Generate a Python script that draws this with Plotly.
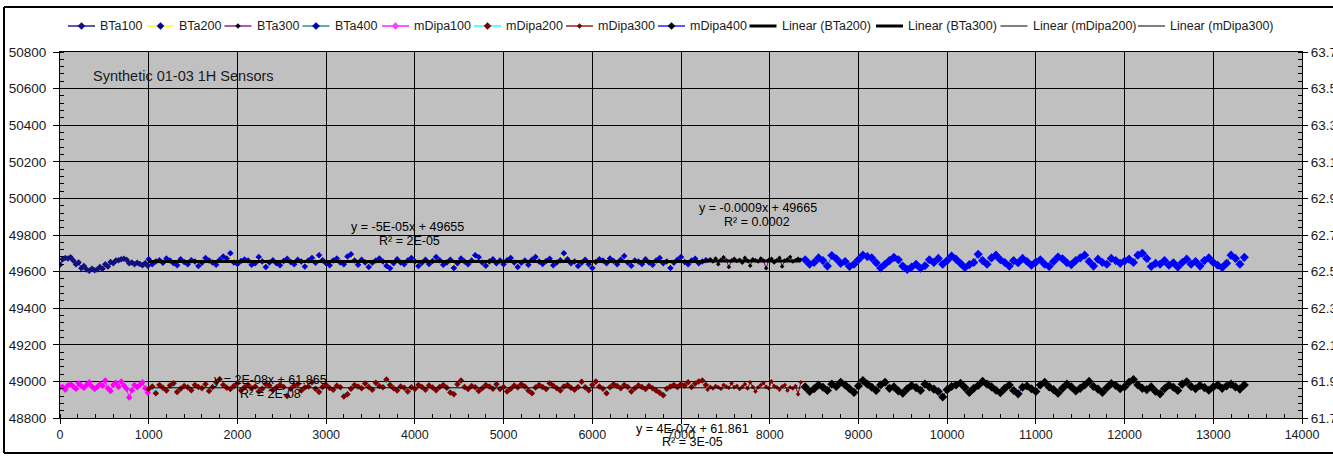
import plotly.graph_objects as go

# ---------------- data ----------------
series_names = ["BTa100", "BTa200", "BTa300", "BTa400",
                "mDipa100", "mDipa200", "mDipa300", "mDipa400"]

# sample grid of each series: (first x, spacing)
bta100_grid = (0, 30)
bta200_grid = (1000, 40)
bta300_grid = (7300, 30)
bta400_grid = (8400, 50)
mdipa100_grid = (0, 30)
mdipa200_grid = (1000, 40)
mdipa300_grid = (7300, 30)
mdipa400_grid = (8400, 50)

# BTa series (left axis)
bta100 = [49637, 49668, 49675, 49672, 49678, 49660, 49640, 49650, 49618, 49630,
          49612, 49605, 49615, 49608, 49612, 49625, 49615, 49640, 49628, 49652,
          49645, 49660, 49662, 49668, 49670, 49665, 49645, 49650, 49640, 49648,
          49642, 49635, 49645, 49632]

bta200 = [49668, 49640, 49655, 49662, 49648, 49672, 49660, 49645, 49635, 49668,
          49652, 49640, 49662, 49655, 49630, 49648, 49675, 49660, 49650, 49638,
          49665, 49682, 49672, 49700, 49650, 49642, 49658, 49666, 49660, 49638,
          49645, 49680, 49655, 49625, 49650, 49662, 49645, 49635, 49658, 49670,
          49652, 49640, 49665, 49655, 49628, 49660, 49675, 49648, 49690, 49662,
          49645, 49635, 49660, 49672, 49650, 49640, 49682, 49695, 49660, 49638,
          49665, 49650, 49625, 49648, 49660, 49672, 49655, 49632, 49618, 49645,
          49668, 49650, 49640, 49660, 49675, 49655, 49630, 49648, 49665, 49642,
          49658, 49680, 49662, 49638, 49650, 49665, 49620, 49645, 49672, 49655,
          49640, 49660, 49690, 49678, 49650, 49632, 49655, 49668, 49645, 49660,
          49640, 49662, 49675, 49650, 49625, 49648, 49660, 49638, 49665, 49680,
          49655, 49642, 49658, 49670, 49635, 49650, 49662, 49700, 49668, 49645,
          49655, 49630, 49648, 49665, 49640, 49620, 49652, 49668, 49660, 49645,
          49672, 49658, 49640, 49665, 49685, 49650, 49632, 49660, 49655, 49642,
          49668, 49650, 49638, 49660, 49675, 49645, 49655, 49620, 49648, 49665,
          49680, 49652, 49640, 49660, 49670, 49645, 49655, 49662]

bta300 = [49660, 49668, 49655, 49672, 49640, 49665, 49678, 49662, 49625, 49660,
          49670, 49658, 49665, 49648, 49675, 49660, 49632, 49668, 49662, 49655,
          49672, 49660, 49618, 49665, 49670, 49650, 49662, 49675, 49628, 49660,
          49668, 49680, 49655, 49662, 49670, 49665]

bta400 = [49665, 49640, 49650, 49675, 49660, 49630, 49688, 49670, 49645, 49655,
          49628, 49640, 49665, 49690, 49682, 49675, 49648, 49620, 49640, 49660,
          49678, 49665, 49630, 49612, 49625, 49640, 49618, 49632, 49665, 49650,
          49672, 49640, 49660, 49685, 49668, 49645, 49622, 49638, 49650, 49695,
          49660, 49640, 49675, 49690, 49665, 49650, 49630, 49660, 49648, 49672,
          49655, 49635, 49652, 49665, 49640, 49628, 49655, 49680, 49670, 49648,
          49638, 49660, 49675, 49690, 49655, 49630, 49668, 49650, 49640, 49672,
          49660, 49645, 49658, 49668, 49650, 49690, 49700, 49672, 49628, 49645,
          49640, 49660, 49635, 49648, 49625, 49650, 49668, 49640, 49655, 49630,
          49660, 49675, 49650, 49635, 49622, 49645, 49690, 49672, 49640, 49678]

# mDipa series (right axis)
mdipa100 = [61.868, 61.870, 61.855, 61.878, 61.885, 61.872, 61.860, 61.890, 61.875, 61.865,
            61.880, 61.895, 61.872, 61.858, 61.870, 61.884, 61.876, 61.905, 61.862, 61.848,
            61.880, 61.892, 61.870, 61.900, 61.878, 61.860, 61.812, 61.852, 61.880, 61.868,
            61.880, 61.895, 61.862, 61.838]

mdipa200 = [61.858, 61.872, 61.835, 61.880, 61.865, 61.850, 61.878, 61.890, 61.842, 61.860,
            61.875, 61.868, 61.852, 61.880, 61.870, 61.862, 61.885, 61.848, 61.870, 61.895,
            61.912, 61.880, 61.865, 61.858, 61.875, 61.890, 61.850, 61.868, 61.880, 61.862,
            61.872, 61.845, 61.860, 61.885, 61.878, 61.852, 61.868, 61.880, 61.870, 61.820,
            61.860, 61.878, 61.885, 61.850, 61.866, 61.872, 61.895, 61.860, 61.842, 61.870,
            61.880, 61.864, 61.855, 61.876, 61.868, 61.818, 61.830, 61.860, 61.880, 61.872,
            61.862, 61.888, 61.870, 61.855, 61.892, 61.875, 61.868, 61.910, 61.880, 61.862,
            61.850, 61.872, 61.865, 61.845, 61.868, 61.858, 61.880, 61.870, 61.855, 61.878,
            61.866, 61.852, 61.870, 61.880, 61.865, 61.840, 61.830, 61.885, 61.905, 61.870,
            61.858, 61.875, 61.868, 61.848, 61.862, 61.880, 61.872, 61.860, 61.885, 61.858,
            61.870, 61.845, 61.860, 61.878, 61.868, 61.885, 61.872, 61.850, 61.835, 61.866,
            61.880, 61.870, 61.858, 61.890, 61.876, 61.862, 61.850, 61.872, 61.880, 61.865,
            61.855, 61.870, 61.898, 61.868, 61.852, 61.880, 61.900, 61.872, 61.860, 61.835,
            61.868, 61.885, 61.875, 61.862, 61.880, 61.870, 61.845, 61.862, 61.878, 61.870,
            61.858, 61.875, 61.862, 61.850, 61.838, 61.825, 61.860, 61.872, 61.880, 61.870,
            61.885, 61.878, 61.895, 61.870, 61.888, 61.900, 61.905, 61.880]

mdipa300 = [61.855, 61.870, 61.862, 61.875, 61.868, 61.860, 61.880, 61.872, 61.865, 61.890,
            61.868, 61.875, 61.858, 61.870, 61.885, 61.862, 61.895, 61.870, 61.845, 61.868,
            61.880, 61.892, 61.870, 61.862, 61.900, 61.875, 61.868, 61.855, 61.872, 61.880,
            61.850, 61.868, 61.862, 61.875, 61.830, 61.895]

mdipa400 = [61.870, 61.845, 61.860, 61.880, 61.868, 61.850, 61.885, 61.872, 61.895, 61.880,
            61.860, 61.840, 61.875, 61.905, 61.885, 61.868, 61.850, 61.880, 61.895, 61.862,
            61.870, 61.848, 61.835, 61.860, 61.878, 61.866, 61.850, 61.885, 61.870, 61.858,
            61.845, 61.815, 61.855, 61.872, 61.880, 61.890, 61.866, 61.840, 61.862, 61.878,
            61.900, 61.885, 61.870, 61.852, 61.838, 61.862, 61.880, 61.850, 61.832, 61.868,
            61.875, 61.860, 61.845, 61.880, 61.895, 61.870, 61.855, 61.835, 61.862, 61.885,
            61.870, 61.848, 61.862, 61.880, 61.900, 61.872, 61.858, 61.840, 61.865, 61.888,
            61.878, 61.860, 61.870, 61.895, 61.910, 61.880, 61.862, 61.855, 61.870, 61.845,
            61.832, 61.860, 61.880, 61.868, 61.850, 61.885, 61.898, 61.872, 61.860, 61.878,
            61.866, 61.852, 61.870, 61.880, 61.862, 61.875, 61.885, 61.870, 61.858, 61.880]

# Excel linear trendlines as printed on the chart: (slope, intercept)
trend_bta200 = (-5e-05, 49655)
trend_bta300 = (-0.0009, 49665)
trend_mdipa200 = (2e-08, 61.865)
trend_mdipa300 = (4e-07, 61.861)

trend_labels = [
    ("y = -5E-05x + 49655", "R² = 2E-05"),
    ("y = -0.0009x + 49665", "R² = 0.0002"),
    ("y = 2E-08x + 61.865", "R² = 2E-08"),
    ("y = 4E-07x + 61.861", "R² = 3E-05"),
]

chart_title = "Synthetic 01-03 1H Sensors"
right_ticks = [61.7, 61.9, 62.1, 62.3, 62.5, 62.7, 62.9, 63.1, 63.3, 63.5, 63.7]

legend_labels = ["BTa100", "BTa200", "BTa300", "BTa400", "mDipa100", "mDipa200",
                 "mDipa300", "mDipa400", "Linear (BTa200)", "Linear (BTa300)",
                 "Linear (mDipa200)", "Linear (mDipa300)"]

# ---------------- layout geometry ----------------
# the chart continues a little beyond the 1333 px view on the right (as in the reference)
W, H = 1350, 457
ML, MR, MT, MB = 60, 48, 52, 39
PW, PH = W - ML - MR, H - MT - MB
FONT = "Liberation Sans, Arial, sans-serif"
TXT = "#1a1a1a"


def pxx(px):
    return (px - ML) / PW


def pxy(py):
    return (H - MB - py) / PH


def xs(grid, vals):
    x0, step = grid
    return [x0 + step * i for i in range(len(vals))]


fig = go.Figure()


def add_series(name, grid, vals, line_color, marker_color, msize, yaxis="y"):
    fig.add_trace(go.Scatter(
        x=xs(grid, vals), y=vals, name=name, mode="lines+markers", yaxis=yaxis,
        line=dict(color=line_color, width=1),
        marker=dict(symbol="diamond", size=msize, color=marker_color,
                    line=dict(width=0)),
        showlegend=False, hoverinfo="x+y"))


add_series("BTa100", bta100_grid, bta100, "#000080", "#101080", 5)
add_series("BTa200", bta200_grid, bta200, "#FFFF00", "#0000CC", 5)
add_series("BTa300", bta300_grid, bta300, "#800080", "#000000", 3.5)
add_series("BTa400", bta400_grid, bta400, "#008080", "#0000FF", 7)
add_series("mDipa100", mdipa100_grid, mdipa100, "#FF00FF", "#FF00FF", 5, "y2")
add_series("mDipa200", mdipa200_grid, mdipa200, "#00FFFF", "#800000", 5, "y2")
add_series("mDipa300", mdipa300_grid, mdipa300, "#800000", "#800000", 3.5, "y2")
add_series("mDipa400", mdipa400_grid, mdipa400, "#0000FF", "#000000", 7, "y2")


def add_trend(name, grid, vals, coef, width, yaxis="y"):
    xx = xs(grid, vals)
    xe = [xx[0], xx[-1]]
    ye = [coef[0] * v + coef[1] for v in xe]
    fig.add_trace(go.Scatter(x=xe, y=ye, name=name, mode="lines", yaxis=yaxis,
                             line=dict(color="#000000", width=width),
                             showlegend=False, hoverinfo="skip"))


add_trend("Linear (BTa200)", bta200_grid, bta200, trend_bta200, 3)
add_trend("Linear (BTa300)", bta300_grid, bta300, trend_bta300, 3)
add_trend("Linear (mDipa200)", mdipa200_grid, mdipa200, trend_mdipa200, 1, "y2")
add_trend("Linear (mDipa300)", mdipa300_grid, mdipa300, trend_mdipa300, 1, "y2")

# ---------------- hand-drawn Excel-style legend ----------------
legend_text_x = [99, 178, 255.5, 333.5, 413, 505, 597, 689, 780.5, 907, 1031.5, 1169]
legend_styles = [
    ("#000080", 1.3, "#101080", 3.6),
    ("#FFFF00", 1.3, "#0000A0", 3.6),
    ("#800080", 1.3, "#000000", 2.4),
    ("#008080", 1.3, "#0000C0", 3.6),
    ("#FF00FF", 1.3, "#FF40FF", 3.6),
    ("#00FFFF", 1.3, "#800000", 3.6),
    ("#800000", 1.3, "#800000", 2.4),
    ("#0000FF", 1.3, "#000000", 3.6),
    ("#000000", 3, None, 0),
    ("#000000", 3, None, 0),
    ("#000000", 1, None, 0),
    ("#000000", 1, None, 0),
]
LEG_Y = 26
shapes = []
annotations = []
for label, tx, (lc, lw, mc, ms) in zip(legend_labels, legend_text_x, legend_styles):
    shapes.append(dict(type="line", xref="paper", yref="paper",
                       x0=pxx(tx - 31), x1=pxx(tx - 4), y0=pxy(LEG_Y), y1=pxy(LEG_Y),
                       line=dict(color=lc, width=lw)))
    if mc:
        shapes.append(dict(type="path", xref="paper", yref="paper",
                           xsizemode="pixel", ysizemode="pixel",
                           xanchor=pxx(tx - 17.5), yanchor=pxy(LEG_Y),
                           path=f"M0,{ms} L{ms},0 L0,-{ms} L-{ms},0 Z",
                           fillcolor=mc, line=dict(color=mc, width=0.5)))
    annotations.append(dict(text=label, xref="paper", yref="paper",
                            x=pxx(tx - 1), y=pxy(LEG_Y), xanchor="left", yanchor="middle",
                            showarrow=False, font=dict(family=FONT, size=12.5, color=TXT)))

# outer chart frame (top, left and bottom edges; the right edge lies beyond the view)
FRAME_L, FRAME_T, FRAME_B = 4, 7, 453
for (ax0, ay0, ax1, ay1) in ((FRAME_L, FRAME_T, W + 20, FRAME_T),
                             (FRAME_L, FRAME_T, FRAME_L, FRAME_B),
                             (FRAME_L, FRAME_B, W + 20, FRAME_B)):
    shapes.append(dict(type="line", xref="paper", yref="paper",
                       x0=pxx(ax0), x1=pxx(ax1), y0=pxy(ay0), y1=pxy(ay1),
                       line=dict(color="#000000", width=2)))

# chart title inside plot area
annotations.append(dict(text=chart_title, xref="paper", yref="paper",
                        x=pxx(91), y=pxy(75.5), xanchor="left", yanchor="middle",
                        showarrow=False, font=dict(family=FONT, size=14.5, color=TXT)))

# trendline equation labels (pixel centres of each text line)
label_pos = [((407, 227), (409, 241)),
             ((757.5, 207.5), (757, 221.7)),
             ((270, 380), (270, 394)),
             ((692.5, 429), (692.5, 441.7))]
for (l1, l2), ((x1, y1), (x2, y2)) in zip(trend_labels, label_pos):
    for t, px, py in ((l1, x1, y1), (l2, x2, y2)):
        annotations.append(dict(text=t, xref="paper", yref="paper", x=pxx(px), y=pxy(py),
                                xanchor="center", yanchor="middle", showarrow=False,
                                font=dict(family=FONT, size=12.5, color="#000000")))

x_font = dict(family=FONT, size=12.5, color=TXT)
y_font = dict(family=FONT, size=13.5, color=TXT)
fig.update_layout(
    width=W, height=H,
    margin=dict(l=ML, r=MR, t=MT, b=MB, autoexpand=False),
    paper_bgcolor="#FFFFFF", plot_bgcolor="#C0C0C0",
    showlegend=False,
    shapes=shapes, annotations=annotations,
    xaxis=dict(range=[0, 14000], dtick=1000, tick0=0, tickformat="d", showgrid=True,
               gridcolor="#000000", gridwidth=1, zeroline=False,
               showline=True, linecolor="#000000", linewidth=1, mirror=True,
               ticks="outside", ticklen=5, tickcolor="#000000",
               minor=dict(dtick=200, ticks="inside", ticklen=4, tickcolor="#000000",
                          showgrid=False),
               tickfont=x_font),
    yaxis=dict(range=[48800, 50800], dtick=200, tick0=48800, tickformat="d", showgrid=True,
               gridcolor="#000000", gridwidth=1, zeroline=False,
               showline=True, linecolor="#000000", linewidth=1,
               ticks="outside", ticklen=6, tickcolor="#000000", ticklabelstandoff=4,
               minor=dict(dtick=40, ticks="inside", ticklen=4, tickcolor="#000000",
                          showgrid=False),
               tickfont=y_font),
    yaxis2=dict(range=[61.7, 63.7], overlaying="y", side="right",
                tickvals=right_ticks, ticktext=[f"{v:.1f}" for v in right_ticks],
                showgrid=False, zeroline=False,
                showline=True, linecolor="#000000", linewidth=1,
                ticks="outside", ticklen=5, tickcolor="#000000",
                minor=dict(dtick=0.04, tick0=61.7, ticks="inside", ticklen=4,
                           tickcolor="#000000", showgrid=False),
                tickfont=y_font),
)

fig.write_html("out.html", config={"displayModeBar": False},
               post_script="document.body.style.margin='0';document.body.style.overflow='hidden';")
